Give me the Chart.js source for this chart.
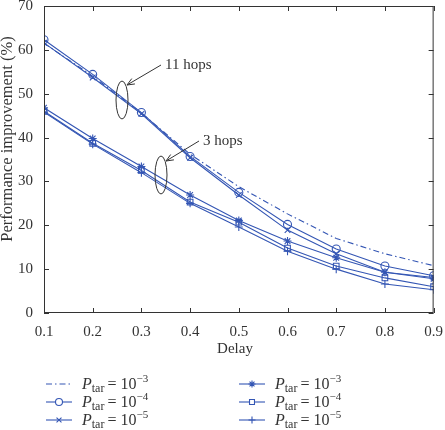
<!DOCTYPE html>
<html>
<head>
<meta charset="utf-8">
<script src="https://cdn.jsdelivr.net/npm/chart.js@4.4.1/dist/chart.umd.min.js"></script>
<style>
  html, body { margin: 0; padding: 0; background: #fff; }
  #wrap { position: relative; width: 445px; height: 430px; }
</style>
</head>
<body>
<div id="wrap"><canvas id="grafico" width="445" height="430"></canvas></div>
<script>
// dados
const delays = [0.1, 0.2, 0.3, 0.4, 0.5, 0.6, 0.7, 0.8, 0.9];
const hops11_p3 = [61.5, 54.0, 45.6, 36.2, 28.8, 22.6, 17.0, 13.5, 10.8];
const hops11_p4 = [62.3, 54.4, 45.7, 35.7, 27.5, 20.2, 14.6, 10.7, 8.5];
const hops11_p5 = [61.6, 53.7, 45.4, 35.4, 26.9, 18.9, 13.5, 9.3, 8.1];
const hops3_p3 = [46.8, 39.8, 33.4, 26.9, 21.1, 16.4, 12.6, 9.3, 7.8];
const hops3_p4 = [46.0, 38.7, 32.5, 25.3, 20.7, 14.8, 10.7, 8.0, 6.0];
const hops3_p5 = [45.8, 38.5, 32.0, 25.0, 19.6, 14.1, 10.0, 6.6, 5.3];
const expoentes = ['\u22123', '\u22124', '\u22125'];

const azul = '#3456b4';
const fonte = '"Liberation Serif", "DejaVu Serif", serif';

const toPts = arr => arr.map((v, i) => ({ x: delays[i], y: v }));

function serie(label, valores, estilo, tracejado) {
  return {
    label: label,
    data: toPts(valores),
    borderColor: azul,
    backgroundColor: 'rgba(0,0,0,0)',
    borderWidth: 1.1,
    borderDash: tracejado || [],
    pointStyle: estilo || false,
    pointRadius: estilo ? 4 : 0,
    pointBorderColor: azul,
    pointBackgroundColor: 'rgba(0,0,0,0)',
    pointBorderWidth: 1.1,
    tension: 0,
  };
}

const datasets = [
  serie('11 hops 1e-3', hops11_p3, null, [6, 3, 1.5, 3]),
  serie('11 hops 1e-4', hops11_p4, 'circle'),
  serie('11 hops 1e-5', hops11_p5, 'crossRot'),
  serie('3 hops 1e-3', hops3_p3, 'star'),
  serie('3 hops 1e-4', hops3_p4, 'rect'),
  serie('3 hops 1e-5', hops3_p5, 'cross'),
];

// moldura, ticks para dentro, titulos, anotacoes e legenda
const extras = {
  id: 'extras',
  afterDraw(chart) {
    const ctx = chart.ctx;
    const a = chart.chartArea;
    const sx = chart.scales.x, sy = chart.scales.y;
    ctx.save();
    ctx.strokeStyle = '#333';
    ctx.lineWidth = 1;
    ctx.strokeRect(a.left + 0.5, a.top + 0.5, a.right - a.left - 1, a.bottom - a.top - 1);
    const tl = 5;
    sx.ticks.forEach(t => {
      const px = Math.round(sx.getPixelForValue(t.value)) + 0.5;
      ctx.beginPath();
      ctx.moveTo(px, a.bottom); ctx.lineTo(px, a.bottom - tl);
      ctx.moveTo(px, a.top); ctx.lineTo(px, a.top + tl);
      ctx.stroke();
    });
    sy.ticks.forEach(t => {
      const py = Math.round(sy.getPixelForValue(t.value)) + 0.5;
      ctx.beginPath();
      ctx.moveTo(a.left, py); ctx.lineTo(a.left + tl, py);
      ctx.moveTo(a.right, py); ctx.lineTo(a.right - tl, py);
      ctx.stroke();
    });

    // titulos dos eixos
    ctx.fillStyle = '#333';
    ctx.textAlign = 'center';
    ctx.textBaseline = 'middle';
    ctx.font = '15px ' + fonte;
    ctx.fillText('Delay', 235, 349);
    ctx.save();
    ctx.translate(8, 139);
    ctx.rotate(-Math.PI / 2);
    ctx.font = '16.5px ' + fonte;
    ctx.fillText('Performance improvement (%)', 0, 0);
    ctx.restore();
    ctx.textAlign = 'left';

    // elipses e setas
    function elipse(cx, cy) {
      ctx.beginPath();
      ctx.ellipse(cx, cy, 6, 19, 0, 0, Math.PI * 2);
      ctx.stroke();
    }
    function seta(x1, y1, x2, y2) {
      ctx.beginPath();
      ctx.moveTo(x1, y1); ctx.lineTo(x2, y2);
      const ang = Math.atan2(y2 - y1, x2 - x1);
      const L = 8;
      ctx.moveTo(x2 - L * Math.cos(ang - 0.4), y2 - L * Math.sin(ang - 0.4));
      ctx.lineTo(x2, y2);
      ctx.lineTo(x2 - L * Math.cos(ang + 0.4), y2 - L * Math.sin(ang + 0.4));
      ctx.stroke();
    }
    ctx.strokeStyle = '#333';
    ctx.lineWidth = 1;
    elipse(122, 100);
    seta(161, 65, 127, 85);
    elipse(161, 175);
    seta(199, 141, 166, 161);
    ctx.font = '15px ' + fonte;
    ctx.fillText('11 hops', 165, 65);
    ctx.fillText('3 hops', 203, 141);

    // legenda
    const linhas = [384, 402, 420];
    const colunas = [{ x0: 46, x1: 72, tx: 82 }, { x0: 239, x1: 265, tx: 275 }];
    datasets.forEach((ds, i) => {
      const c = colunas[Math.floor(i / 3)];
      const y = linhas[i % 3];
      ctx.save();
      ctx.strokeStyle = azul;
      ctx.fillStyle = '#fff';
      ctx.lineWidth = 1.1;
      ctx.setLineDash(ds.borderDash);
      ctx.beginPath();
      ctx.moveTo(c.x0, y); ctx.lineTo(c.x1, y);
      ctx.stroke();
      ctx.setLineDash([]);
      if (ds.pointStyle) {
        Chart.helpers.drawPoint(ctx, { pointStyle: ds.pointStyle, radius: 3.5, borderWidth: 1.1 }, (c.x0 + c.x1) / 2, y);
      }
      ctx.restore();
      ctx.fillStyle = '#333';
      ctx.textBaseline = 'alphabetic';
      let x = c.tx;
      const base = y + 5;
      ctx.font = 'italic 16px ' + fonte;
      ctx.fillText('P', x, base); x += ctx.measureText('P').width;
      ctx.font = '12px ' + fonte;
      ctx.fillText('tar', x, base + 3); x += ctx.measureText('tar').width + 3;
      ctx.font = '16px ' + fonte;
      ctx.fillText('= 10', x, base); x += ctx.measureText('= 10').width;
      ctx.font = '11px ' + fonte;
      ctx.fillText(expoentes[i % 3], x, base - 7);
    });
    ctx.restore();
  }
};

const ctx = document.getElementById('grafico').getContext('2d');
new Chart(ctx, {
  type: 'line',
  data: { datasets: datasets },
  plugins: [extras],
  options: {
    responsive: false,
    animation: false,
    layout: { padding: { top: 0, right: 11, left: 0, bottom: 67 } },
    plugins: { legend: { display: false }, tooltip: { enabled: false } },
    scales: {
      x: {
        type: 'linear',
        min: 0.1, max: 0.9,
        grid: { display: false },
        border: { display: false },
        ticks: {
          stepSize: 0.1,
          color: '#333',
          font: { family: fonte, size: 15 },
          padding: 2,
          maxRotation: 0,
          callback: v => v.toFixed(1),
        },
        afterFit: s => { s.height = 50; },
      },
      y: {
        min: 0, max: 70,
        grid: { display: false },
        border: { display: false },
        ticks: { stepSize: 10, color: '#333', font: { family: fonte, size: 15 }, padding: 3 },
        afterFit: s => { s.width = 44; s.paddingTop = 6; },
      },
    },
  },
});
</script>
</body>
</html>
